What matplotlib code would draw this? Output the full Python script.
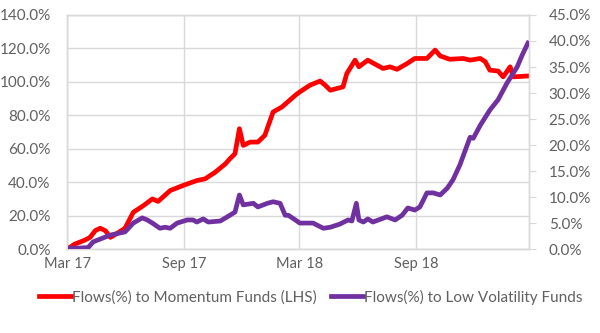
import matplotlib
matplotlib.use("Agg")
import matplotlib.pyplot as plt
import matplotlib.dates as md
import matplotlib.ticker as mt
import pandas as pd

# flows to momentum funds (left axis, %)
mom_dates = ["2017-03-01", "2017-03-13", "2017-03-29", "2017-04-06", "2017-04-14",
             "2017-04-22", "2017-04-30", "2017-05-08", "2017-05-19", "2017-05-31",
             "2017-06-13", "2017-06-29", "2017-07-13", "2017-07-22", "2017-08-10",
             "2017-08-30", "2017-09-21", "2017-10-04", "2017-10-20", "2017-11-05",
             "2017-11-12", "2017-11-20", "2017-11-27", "2017-12-03", "2017-12-14",
             "2017-12-26", "2018-01-06", "2018-01-19", "2018-02-02", "2018-02-23",
             "2018-03-02", "2018-03-18", "2018-04-03", "2018-04-11", "2018-04-19",
             "2018-05-09", "2018-05-15", "2018-05-28", "2018-06-03", "2018-06-17",
             "2018-07-11", "2018-07-22", "2018-08-02", "2018-08-18", "2018-08-30",
             "2018-09-18", "2018-10-01", "2018-10-09", "2018-10-24", "2018-11-14",
             "2018-11-25", "2018-12-11", "2018-12-19", "2018-12-26", "2019-01-08",
             "2019-01-16", "2019-01-27", "2019-02-01", "2019-02-23"]
mom_vals = [0, 3, 5.4, 7, 11, 12.5, 11, 7, 9.5, 12.5,
            22, 26, 30, 28.5, 35, 38, 41, 42, 46, 51,
            54, 57, 72, 62, 64, 64, 68, 82, 85, 92,
            94, 98, 100.5, 98, 95, 97, 105, 113, 109, 113,
            108, 109, 107.5, 111, 114, 114, 119, 115.5, 113.5, 114,
            113, 114, 112, 107, 106.5, 103, 109, 103, 103.5]

# flows to low volatility funds (right axis, %)
lv_dates = ["2017-03-06", "2017-03-21", "2017-04-03", "2017-04-11", "2017-05-08",
            "2017-05-31", "2017-06-13", "2017-06-27", "2017-07-05", "2017-07-13",
            "2017-07-25", "2017-08-02", "2017-08-10", "2017-08-21", "2017-09-06",
            "2017-09-15", "2017-09-21", "2017-10-01", "2017-10-09", "2017-10-28",
            "2017-11-12", "2017-11-20", "2017-11-27", "2017-12-03", "2017-12-19",
            "2017-12-26", "2018-01-10", "2018-01-19", "2018-01-30", "2018-02-07",
            "2018-02-12", "2018-02-23", "2018-03-02", "2018-03-23", "2018-04-08",
            "2018-04-19", "2018-05-04", "2018-05-17", "2018-05-23", "2018-05-30",
            "2018-06-03", "2018-06-10", "2018-06-17", "2018-06-25", "2018-07-17",
            "2018-07-30", "2018-08-10", "2018-08-19", "2018-08-30", "2018-09-07",
            "2018-09-18", "2018-09-28", "2018-10-09", "2018-10-20", "2018-10-29",
            "2018-11-09", "2018-11-25", "2018-11-30", "2018-12-11", "2018-12-26",
            "2019-01-08", "2019-01-22", "2019-02-07", "2019-02-15", "2019-02-24"]
lv_vals = [0.2, 0.2, 0.3, 1.4, 2.7, 3.3, 5, 6, 5.6, 5,
           4, 4.2, 4, 5, 5.6, 5.6, 5.2, 5.8, 5.2, 5.4,
           6.5, 7.1, 10.4, 8.5, 8.8, 8.1, 8.8, 9.1, 8.8, 6.5,
           6.5, 5.6, 5, 5, 4, 4.2, 4.8, 5.6, 5.4, 8.8,
           5.6, 5.2, 5.8, 5.2, 6.2, 5.6, 6.5, 7.9, 7.5, 8.1,
           10.8, 10.8, 10.4, 11.7, 13.3, 16.2, 21.5, 21.3, 23.8, 26.7,
           28.7, 31.9, 35, 37.3, 39.6]

tick_dates = ["2017-03-01", "2017-09-01", "2018-03-01", "2018-09-01"]
tick_labels = ["Mar 17", "Sep 17", "Mar 18", "Sep 18"]

RED = "#ff0000"
PURPLE = "#7030a0"
GRID = "#d9d9d9"
TXT = "#606060"

plt.rcParams["font.family"] = ["Lato", "DejaVu Sans"]

fig = plt.figure(figsize=(6, 3.33), dpi=100)
ax = fig.add_axes([0.112, 0.252, 0.77, 0.703])
ax2 = ax.twinx()

l1, = ax.plot(pd.to_datetime(mom_dates), mom_vals, color=RED, lw=3.4,
              solid_joinstyle="round", label="Flows(%) to Momentum Funds (LHS)", zorder=3)
l2, = ax2.plot(pd.to_datetime(lv_dates), lv_vals, color=PURPLE, lw=3.4,
               solid_joinstyle="round", label="Flows(%) to Low Volatility Funds", zorder=3)

ax.set_xlim(pd.Timestamp("2017-03-01"), pd.Timestamp("2019-02-26"))
ax.set_ylim(0, 140)
ax2.set_ylim(0, 45)
ax.set_yticks(range(0, 141, 20))
ax2.set_yticks(range(0, 46, 5))
ax.yaxis.set_major_formatter(mt.FuncFormatter(lambda v, p: "%.1f%%" % v))
ax2.yaxis.set_major_formatter(mt.FuncFormatter(lambda v, p: "%.1f%%" % v))
ax.set_xticks(pd.to_datetime(tick_dates))
ax.set_xticklabels(tick_labels)

ax.grid(True, color=GRID, lw=1)
ax.set_axisbelow(True)
for a in (ax, ax2):
    for s in a.spines.values():
        s.set_color(GRID)
        s.set_linewidth(1)
ax.tick_params(axis="y", length=0, pad=12, labelsize=11, colors=TXT)
ax.tick_params(axis="x", length=0, pad=6, labelsize=10.5, colors=TXT)
ax2.tick_params(axis="y", length=5, pad=9, labelsize=11, labelcolor=TXT, color=GRID)

fig.legend(handles=[l1, l2], loc="center", bbox_to_anchor=(0.518, 0.108), ncol=2,
           frameon=False, fontsize=11, handlelength=2.1, handletextpad=0.1,
           columnspacing=0.9, labelcolor=TXT)

fig.savefig("out.png", dpi=100)
